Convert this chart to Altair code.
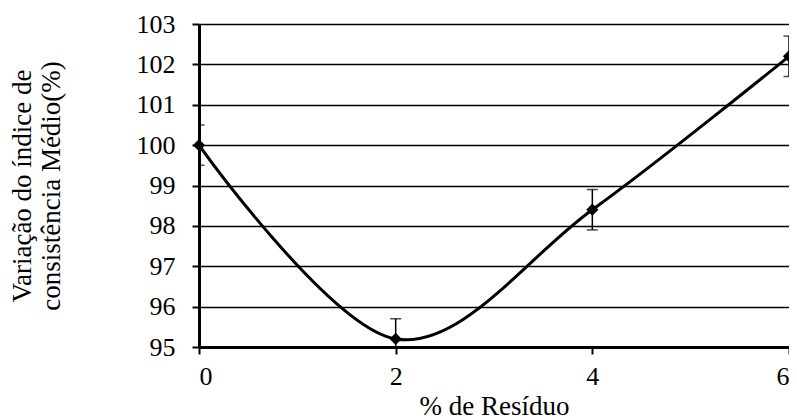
import altair as alt
import pandas as pd

residuo = [0, 2, 4, 6]
indice = [100.0, 95.2, 98.4, 102.2]
erro = [0.5, 0.5, 0.5, 0.5]

df = pd.DataFrame({"x": residuo, "y": indice, "e": erro})
df["lo"] = df["y"] - df["e"]
df["hi"] = df["y"] + df["e"]

FONT = "Liberation Serif"

xs = alt.Scale(domain=[0, 6], nice=False, zero=False)
ys = alt.Scale(domain=[95, 103], nice=False, zero=False)

xaxis = alt.Axis(values=[0, 2, 4, 6], format="d", grid=False, domainColor="black", domainWidth=3,
                 tickColor="black", tickWidth=2, tickSize=7, labelFontSize=26,
                 labelFont=FONT, labelColor="black", labelPadding=9,
                 title="% de Resíduo", titleFont=FONT, titleFontSize=27,
                 titleFontWeight="normal", titleColor="black", titlePadding=4)
yaxis = alt.Axis(values=list(range(95, 104)), format="d", grid=True, gridColor="black", gridWidth=1.5,
                 gridOpacity=1, domainColor="black", domainWidth=3, tickColor="black",
                 tickWidth=2, tickSize=7, labelFontSize=26, labelFont=FONT,
                 labelColor="black", labelPadding=17,
                 title=["Variação do índice de", "consistência Médio(%)"],
                 titleFont=FONT, titleFontSize=27, titleFontWeight="normal",
                 titleColor="black", titlePadding=71, titleLineHeight=29)

base = alt.Chart(df)

curve = base.mark_line(interpolate="cardinal", color="black", strokeWidth=3, clip=True).encode(
    x=alt.X("x:Q", scale=xs, axis=xaxis),
    y=alt.Y("y:Q", scale=ys, axis=yaxis),
)
bars = base.mark_rule(color="black", strokeWidth=1.5, clip=True).encode(
    x=alt.X("x:Q", scale=xs), y=alt.Y("lo:Q", scale=ys), y2="hi:Q"
)
cap_hi = base.mark_tick(color="black", size=11, thickness=1.5, orient="horizontal", clip=True).encode(
    x=alt.X("x:Q", scale=xs), y=alt.Y("hi:Q", scale=ys)
)
cap_lo = base.mark_tick(color="black", size=11, thickness=1.5, orient="horizontal", clip=True).encode(
    x=alt.X("x:Q", scale=xs), y=alt.Y("lo:Q", scale=ys)
)
pts = base.mark_point(shape="diamond", filled=True, color="black", size=150, opacity=1).encode(
    x=alt.X("x:Q", scale=xs), y=alt.Y("y:Q", scale=ys)
)

chart = alt.layer(curve, bars, cap_hi, cap_lo, pts).properties(
    width=590, height=323,
    autosize=alt.AutoSizeParams(type="none"),
    padding={"left": 191, "top": 16, "right": 0, "bottom": 78},
).configure_view(stroke="black", strokeWidth=2).configure(background="white", font=FONT)

chart.save("out.html", embed_options={"renderer": "svg", "actions": False})
